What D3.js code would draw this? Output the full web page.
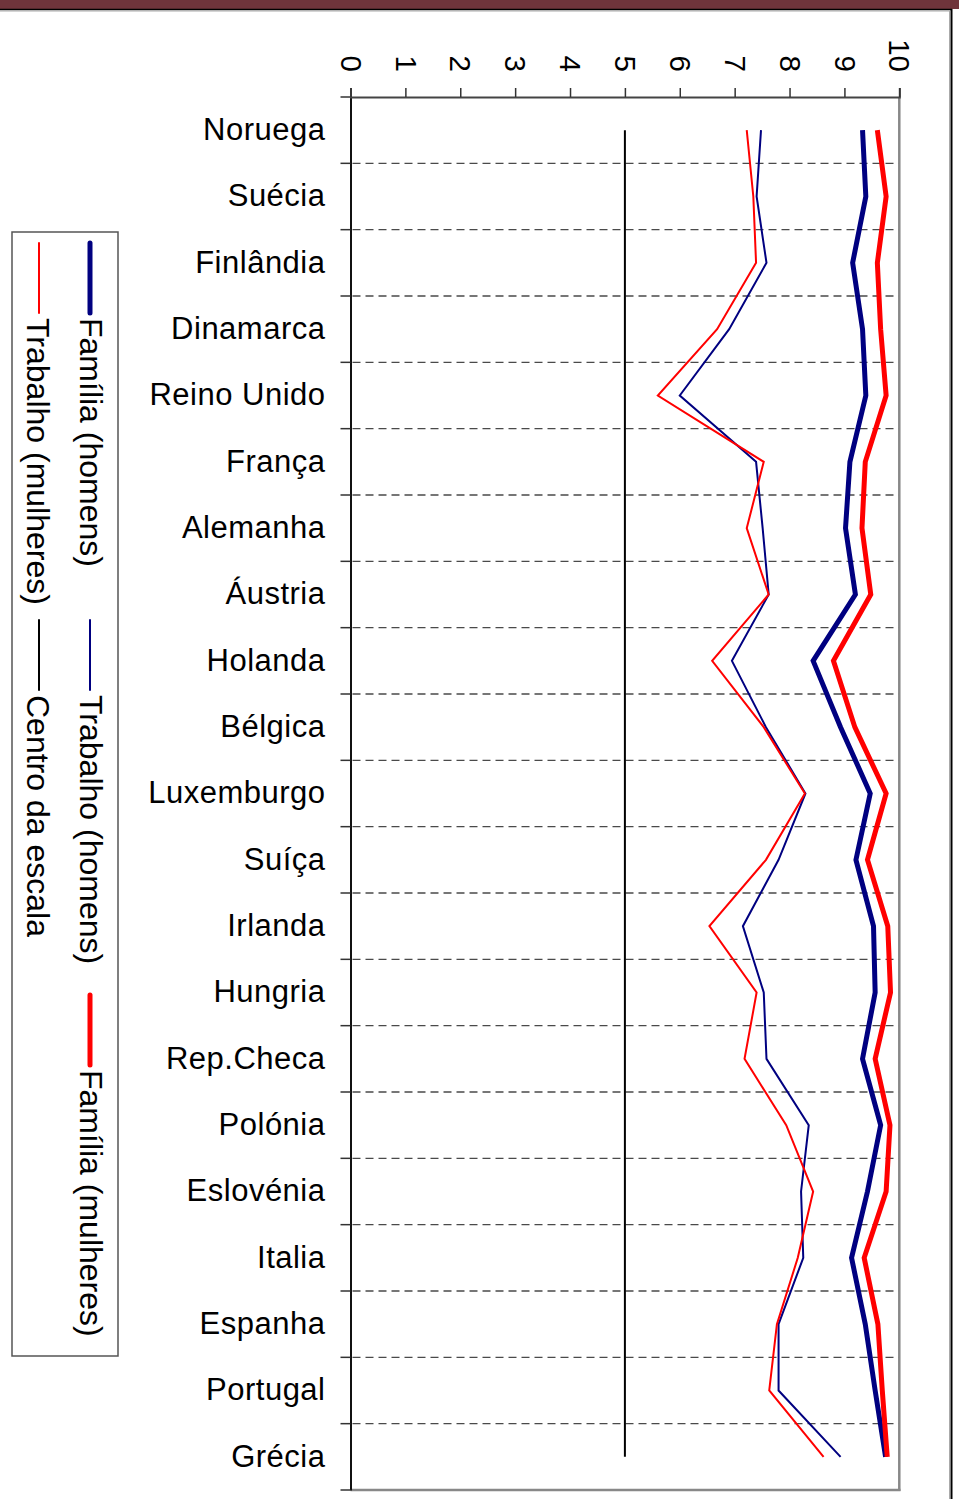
<!DOCTYPE html>
<html>
<head>
<meta charset="utf-8">
<script src="https://cdn.jsdelivr.net/npm/d3@7"></script>
<style>
  html, body { margin: 0; padding: 0; background: #ffffff; }
  svg { display: block; font-family: "Liberation Sans", Arial, sans-serif; }
</style>
</head>
<body>
<svg id="chart" width="959" height="1499"></svg>
<script>
// Countries, top to bottom
const categories = [
  "Noruega", "Suécia", "Finlândia", "Dinamarca", "Reino Unido", "França",
  "Alemanha", "Áustria", "Holanda", "Bélgica", "Luxemburgo", "Suíça",
  "Irlanda", "Hungria", "Rep.Checa", "Polónia", "Eslovénia", "Italia",
  "Espanha", "Portugal", "Grécia"
];

// Importance scores (0–10)
const familiaHomens   = [9.33, 9.39, 9.15, 9.33, 9.39, 9.10, 9.02, 9.20, 8.43, 8.93, 9.47, 9.21, 9.53, 9.56, 9.33, 9.66, 9.42, 9.13, 9.38, 9.56, 9.75];
const trabalhoHomens  = [7.48, 7.40, 7.58, 6.90, 6.00, 7.39, 7.51, 7.62, 6.95, 7.57, 8.29, 7.80, 7.15, 7.53, 7.58, 8.35, 8.21, 8.25, 7.80, 7.80, 8.93];
const familiaMulheres = [9.60, 9.76, 9.60, 9.66, 9.76, 9.38, 9.32, 9.48, 8.80, 9.19, 9.76, 9.42, 9.79, 9.84, 9.56, 9.83, 9.76, 9.36, 9.61, 9.69, 9.78];
const trabalhoMulheres= [7.22, 7.34, 7.39, 6.68, 5.60, 7.53, 7.22, 7.62, 6.59, 7.53, 8.28, 7.57, 6.54, 7.40, 7.18, 7.94, 8.43, 8.15, 7.77, 7.63, 8.62];
const centroEscala    = [5, 5, 5, 5, 5, 5, 5, 5, 5, 5, 5, 5, 5, 5, 5, 5, 5, 5, 5, 5, 5];

const valueTicks = [0, 1, 2, 3, 4, 5, 6, 7, 8, 9, 10];

const seriesNames = ["Família (homens)", "Trabalho (homens)", "Família (mulheres)", "Trabalho (mulheres)", "Centro da escala"];
const seriesData  = [familiaHomens, trabalhoHomens, familiaMulheres, trabalhoMulheres, centroEscala];

const styles = [
  { color: "#000080", width: 5 },
  { color: "#000080", width: 2 },
  { color: "#ff0000", width: 5 },
  { color: "#ff0000", width: 2 },
  { color: "#000000", width: 2 }
];

const svg = d3.select("#chart");

// Outer frame
svg.append("rect").attr("x", 0).attr("y", 0).attr("width", 959).attr("height", 9).attr("fill", "#6f343b");
svg.append("line").attr("x1", 0).attr("x2", 952).attr("y1", 9.5).attr("y2", 9.5).attr("stroke", "#000").attr("stroke-width", 1.5);
svg.append("line").attr("x1", 0).attr("x2", 950).attr("y1", 11).attr("y2", 11).attr("stroke", "#aaa").attr("stroke-width", 1);
svg.append("line").attr("x1", 951.5).attr("x2", 951.5).attr("y1", 9).attr("y2", 1499).attr("stroke", "#000").attr("stroke-width", 2);
svg.append("line").attr("x1", 949.5).attr("x2", 949.5).attr("y1", 11).attr("y2", 1499).attr("stroke", "#aaa").attr("stroke-width", 1);

// Plot geometry
const plot = { left: 350.5, right: 899.3, top: 97, bottom: 1490 };

const x = d3.scaleLinear().domain([0, 10]).range([plot.left, plot.right]);
const y = d3.scaleBand().domain(categories).range([plot.top, plot.bottom]).padding(0);
const yc = d => y(d) + y.bandwidth() / 2;

// Dashed gridlines at category boundaries
const boundaries = d3.range(1, categories.length).map(i => plot.top + i * y.step());
svg.append("g").selectAll("line").data(boundaries).join("line")
  .attr("x1", plot.left + 2).attr("x2", plot.right)
  .attr("y1", d => d).attr("y2", d => d)
  .attr("stroke", "#4a4a4a").attr("stroke-width", 1.4)
  .attr("stroke-dasharray", "8,5");

// Plot border (right and bottom)
svg.append("line").attr("x1", plot.right).attr("x2", plot.right).attr("y1", plot.top).attr("y2", plot.bottom + 1)
  .attr("stroke", "#888").attr("stroke-width", 2.5);
svg.append("line").attr("x1", plot.left).attr("x2", plot.right + 1.2).attr("y1", plot.bottom).attr("y2", plot.bottom)
  .attr("stroke", "#888").attr("stroke-width", 2.5);

// Category axis on the left
const yAxis = d3.axisLeft(y).tickSize(0).tickPadding(25);
const gy = svg.append("g").attr("transform", `translate(${plot.left},0)`).call(yAxis);
gy.select(".domain").attr("stroke", "#111").attr("stroke-width", 2);
gy.selectAll("text")
  .attr("font-size", 31).attr("fill", "#000")
  .attr("letter-spacing", "0.5px")
  .attr("font-family", "\"Liberation Sans\", Arial, sans-serif");
// category tick marks at band boundaries
svg.append("g").selectAll("line").data(d3.range(0, categories.length + 1).map(i => plot.top + i * y.step())).join("line")
  .attr("x1", plot.left - 10).attr("x2", plot.left)
  .attr("y1", d => d).attr("y2", d => d)
  .attr("stroke", "#333").attr("stroke-width", 1.5);

// Value axis on top, labels turned a quarter turn
const xAxis = d3.axisTop(x).tickValues(valueTicks).tickSize(9).tickFormat(d3.format("d"));
const gx = svg.append("g").attr("transform", `translate(0,${plot.top})`).call(xAxis);
gx.select(".domain").attr("stroke", "#444").attr("stroke-width", 2);
gx.selectAll(".tick line").attr("stroke", "#333").attr("stroke-width", 1.5);
gx.selectAll(".tick text")
  .attr("x", 0).attr("y", 0).attr("dy", "0.35em")
  .attr("transform", "translate(0,-25) rotate(90)")
  .attr("text-anchor", "end")
  .attr("font-size", 29.5).attr("fill", "#000")
  .attr("font-family", "\"Liberation Sans\", Arial, sans-serif");

// Series lines
const lineGen = d3.line()
  .x(d => x(d.v))
  .y(d => yc(d.c));

const order = [4, 0, 1, 2, 3];
svg.append("g").selectAll("path").data(order).join("path")
  .attr("d", i => lineGen(categories.map((c, k) => ({ c, v: seriesData[i][k] }))))
  .attr("fill", "none")
  .attr("stroke", i => styles[i].color)
  .attr("stroke-width", i => styles[i].width)
  .attr("stroke-linejoin", "miter");

// Legend (turned a quarter turn, two columns)
const legend = svg.append("g");
legend.append("rect").attr("x", 12).attr("y", 232).attr("width", 106).attr("height", 1124)
  .attr("fill", "#fff").attr("stroke", "#555").attr("stroke-width", 1.5);

const legendPos = [
  { lx: 90, tx: 80, y0: 243 },
  { lx: 90, tx: 80, y0: 620 },
  { lx: 90, tx: 80, y0: 995 },
  { lx: 39, tx: 27, y0: 243 },
  { lx: 39, tx: 27, y0: 620 }
];

const entries = legend.selectAll("g.entry").data(seriesNames.map((n, i) => ({ n, i }))).join("g").attr("class", "entry");
entries.append("line")
  .attr("x1", d => legendPos[d.i].lx).attr("x2", d => legendPos[d.i].lx)
  .attr("y1", d => legendPos[d.i].y0).attr("y2", d => legendPos[d.i].y0 + 70)
  .attr("stroke", d => styles[d.i].color)
  .attr("stroke-width", d => styles[d.i].width)
  .attr("stroke-linecap", "round");
entries.append("text")
  .attr("transform", d => `translate(${legendPos[d.i].tx},${legendPos[d.i].y0 + 75}) rotate(90)`)
  .attr("font-size", 32)
  .attr("fill", "#000")
  .text(d => d.n);
</script>
</body>
</html>
